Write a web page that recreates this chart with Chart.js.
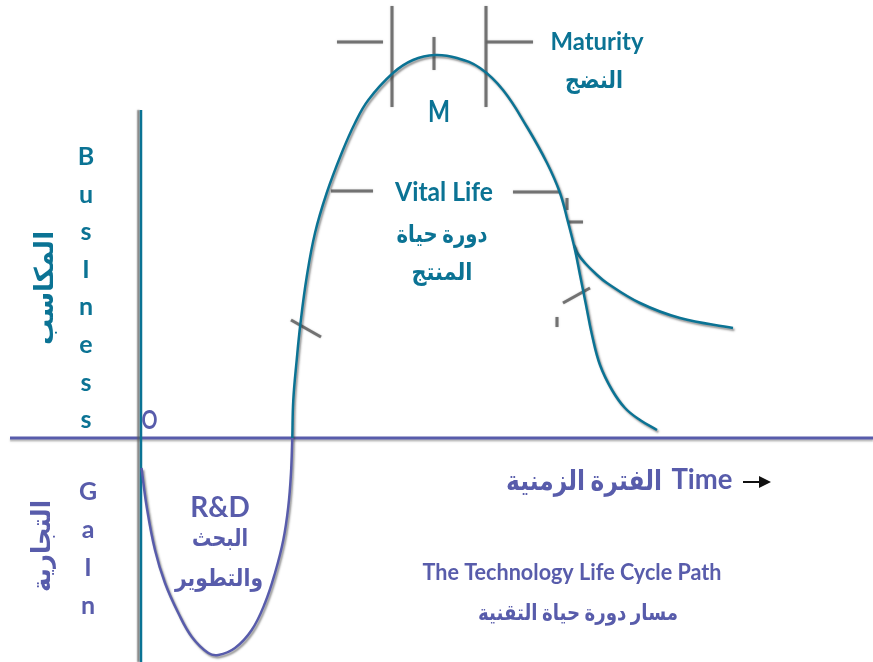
<!DOCTYPE html>
<html lang="ar">
<head>
<meta charset="utf-8">
<title>The Technology Life Cycle Path</title>
<script src="https://cdn.jsdelivr.net/npm/chart.js@4.4.1/dist/chart.umd.min.js"></script>
<style>
    html, body { margin: 0; padding: 0; background: #fff; }
    canvas { display: block; }
</style>
</head>
<body>
<canvas id="lifeCycleChart" width="873" height="662"></canvas>
<script>
// x = time, y = business gain, both 0 where the two axes cross
const rdTime = [0.05, 0.57, 1.4, 2.4, 3.73, 5.07, 6.73, 7.73, 9.4, 11.07, 12.4, 13.4, 14.23, 14.73, 15.0, 15.13];
const rdGain = [-3.0, -6.87, -11.2, -14.5, -17.5, -19.87, -21.5, -21.7, -21.0, -19.2, -16.5, -13.5, -10.2, -6.87, -3.5, 0];

const lifeTime = [15.13, 15.23, 15.57, 15.95, 16.57, 17.4, 18.57, 20.07, 21.4, 22.73, 25.2, 27.2, 29.4,
    31.6, 33.9, 36.2, 38.6, 40.6, 41.9, 42.7, 43.4, 43.9, 44.5, 45.1, 45.9, 47.1, 48.4, 49.9, 51.6];
const lifeGain = [0, 3.8, 7.8, 11.5, 16.1, 20.5, 24.5, 28.5, 31.5, 33.8, 36.5, 37.8, 38.3,
    38.0, 37.0, 34.8, 31.1, 27.5, 24.5, 21.6, 18.8, 16.3, 13.3, 10.3, 7.3, 4.8, 3.0, 1.8, 0.8];

const renewTime = [43.3, 43.7, 44.4, 45.4, 46.6, 49.9, 53.9, 59.2];
const renewGain = [19.3, 18.4, 17.5, 16.5, 15.5, 13.5, 12.0, 11.0];

const timeAxis = [[-13.1, 0], [73.2, 0]];
const gainAxis = [[0, 32.8], [0, -22.4]];

// stage markers: [x1, y1, x2, y2]
const stageMarks = [
    [19.6, 39.6, 24.2, 39.6],
    [25.1, 43.2, 25.1, 33.1],
    [29.3, 40.1, 29.3, 36.8],
    [34.5, 43.2, 34.5, 33.1],
    [34.5, 39.6, 39.2, 39.6],
    [19.0, 24.7, 23.2, 24.7],
    [37.2, 24.6, 41.9, 24.6],
    [15.0, 11.8, 18.0, 10.1],
    [42.2, 13.5, 44.9, 15.0],
    [41.6, 12.1, 41.6, 11.1],
    [42.7, 21.6, 44.2, 21.6],
    [42.6, 24.0, 42.6, 22.8]
];

const TEAL = '#0b7394';
const PURPLE = '#585cab';
const FONT = "Lato, 'DejaVu Sans', sans-serif";

function toPoints(xs, ys) {
    return xs.map((x, i) => ({ x: x, y: ys[i] }));
}

document.addEventListener('DOMContentLoaded', function() {
    const ctx = document.getElementById('lifeCycleChart').getContext('2d');

    const labels = [
        { text: 'Maturity', x: 45.6, y: 39.6, size: 25, w: 93, color: TEAL },
        { text: 'النضج', x: 45.3, y: 35.8, size: 24, w: 58, color: TEAL },
        { text: 'M', x: 29.8, y: 32.6, size: 30, w: 22, color: TEAL },
        { text: 'Vital Life', x: 30.3, y: 24.5, size: 26, w: 98, color: TEAL },
        { text: 'دورة حياة', x: 30.1, y: 20.4, size: 24, w: 91, color: TEAL },
        { text: 'المنتج', x: 30.1, y: 16.6, size: 24, w: 61, color: TEAL },
        { text: 'المكاسب', x: -9.6, y: 15.0, size: 26, w: 115, color: TEAL, rotate: true },
        { text: 'التجارية', x: -9.9, y: -10.8, size: 26, w: 92, color: PURPLE, rotate: true },
        { text: 'O', x: 0.85, y: 1.7, size: 26, w: 16, color: PURPLE },
        { text: 'R&D', x: 7.9, y: -7.0, size: 28, w: 60, color: PURPLE },
        { text: 'البحث', x: 7.9, y: -10.0, size: 24, w: 56, color: PURPLE },
        { text: 'والتطوير', x: 7.8, y: -14.0, size: 24, w: 88, color: PURPLE },
        { text: 'Time', x: 56.1, y: -4.2, size: 29, w: 61, color: PURPLE },
        { text: 'الفترة الزمنية', x: 44.3, y: -4.3, size: 28, w: 156, color: PURPLE },
        { text: 'The Technology Life Cycle Path', x: 43.1, y: -13.5, size: 22, w: 299, color: PURPLE },
        { text: 'مسار دورة حياة التقنية', x: 43.7, y: -17.5, size: 22, w: 200, color: PURPLE }
    ];
    'BusIness'.split('').forEach((ch, i) => {
        labels.push({ text: ch, x: -5.5, y: 28.1 - 3.76 * i, size: 25, w: 30, color: TEAL });
    });
    'GaIn'.split('').forEach((ch, i) => {
        labels.push({ text: ch, x: -5.3, y: -5.4 - 3.8 * i, size: 25, w: 30, color: PURPLE });
    });

    const shadowPlugin = {
        id: 'shadow',
        beforeDatasetDraw(chart, args) {
            const s = chart.data.datasets[args.index].shadow;
            if (!s) return;
            chart.ctx.shadowColor = s.color;
            chart.ctx.shadowBlur = s.blur;
            chart.ctx.shadowOffsetX = s.dx;
            chart.ctx.shadowOffsetY = s.dy;
        },
        afterDatasetDraw(chart) {
            chart.ctx.shadowColor = 'transparent';
            chart.ctx.shadowBlur = 0;
            chart.ctx.shadowOffsetX = 0;
            chart.ctx.shadowOffsetY = 0;
        }
    };

    const textPlugin = {
        id: 'diagramText',
        afterDatasetsDraw(chart) {
            const c = chart.ctx;
            const sx = chart.scales.x;
            const sy = chart.scales.y;
            c.save();
            c.textAlign = 'center';
            c.textBaseline = 'middle';
            labels.forEach(l => {
                const px = sx.getPixelForValue(l.x);
                const py = sy.getPixelForValue(l.y);
                c.font = `bold ${l.size}px ${FONT}`;
                c.fillStyle = l.color;
                if (l.rotate) {
                    c.save();
                    c.translate(px, py);
                    c.rotate(-Math.PI / 2);
                    c.fillText(l.text, 0, 0, l.w);
                    c.restore();
                } else {
                    c.fillText(l.text, px, py, l.w);
                }
            });

            // small black arrow after "Time"
            const ax1 = sx.getPixelForValue(60.2);
            const ax2 = sx.getPixelForValue(63.0);
            const ay = sy.getPixelForValue(-4.4);
            c.strokeStyle = '#111';
            c.fillStyle = '#111';
            c.lineWidth = 2;
            c.beginPath();
            c.moveTo(ax1, ay);
            c.lineTo(ax2 - 8, ay);
            c.stroke();
            c.beginPath();
            c.moveTo(ax2, ay);
            c.lineTo(ax2 - 12, ay - 6);
            c.lineTo(ax2 - 12, ay + 6);
            c.closePath();
            c.fill();
            c.restore();
        }
    };

    const curveShadow = { color: 'rgba(60,60,60,0.55)', blur: 2, dx: 1.5, dy: 2 };

    const datasets = [
        {
            label: 'R&D',
            data: toPoints(rdTime, rdGain),
            borderColor: PURPLE,
            borderWidth: 2.5,
            tension: 0.4,
            shadow: curveShadow
        },
        {
            label: 'Life',
            data: toPoints(lifeTime, lifeGain),
            borderColor: TEAL,
            borderWidth: 2.5,
            tension: 0.4,
            shadow: curveShadow
        },
        {
            label: 'Renewal',
            data: toPoints(renewTime, renewGain),
            borderColor: TEAL,
            borderWidth: 2.5,
            tension: 0.4,
            shadow: curveShadow
        },
        {
            label: 'Gain axis',
            data: gainAxis.map(p => ({ x: p[0], y: p[1] })),
            borderColor: TEAL,
            borderWidth: 2.5,
            shadow: { color: 'rgba(90,90,90,0.8)', blur: 1.5, dx: -2.5, dy: 0 }
        },
        {
            label: 'Time axis',
            data: timeAxis.map(p => ({ x: p[0], y: p[1] })),
            borderColor: PURPLE,
            borderWidth: 3,
            shadow: { color: 'rgba(120,120,120,0.5)', blur: 1.5, dx: 0, dy: 2 }
        }
    ];
    stageMarks.forEach(m => {
        datasets.push({
            label: 'mark',
            data: [{ x: m[0], y: m[1] }, { x: m[2], y: m[3] }],
            borderColor: 'rgba(100,100,100,0.85)',
            borderWidth: 3,
            shadow: { color: 'rgba(120,120,120,0.6)', blur: 1.5, dx: 0, dy: 0 }
        });
    });

    const chartConfig = {
        type: 'line',
        data: { datasets: datasets },
        options: {
            responsive: false,
            animation: false,
            layout: { padding: 0 },
            elements: { point: { radius: 0, hoverRadius: 0 } },
            plugins: {
                legend: { display: false },
                tooltip: { enabled: false }
            },
            scales: {
                x: { type: 'linear', min: -14.1, max: 73.2, display: false },
                y: { type: 'linear', min: -22.4, max: 43.8, display: false }
            }
        },
        plugins: [shadowPlugin, textPlugin]
    };

    new Chart(ctx, chartConfig);
});
</script>
</body>
</html>
